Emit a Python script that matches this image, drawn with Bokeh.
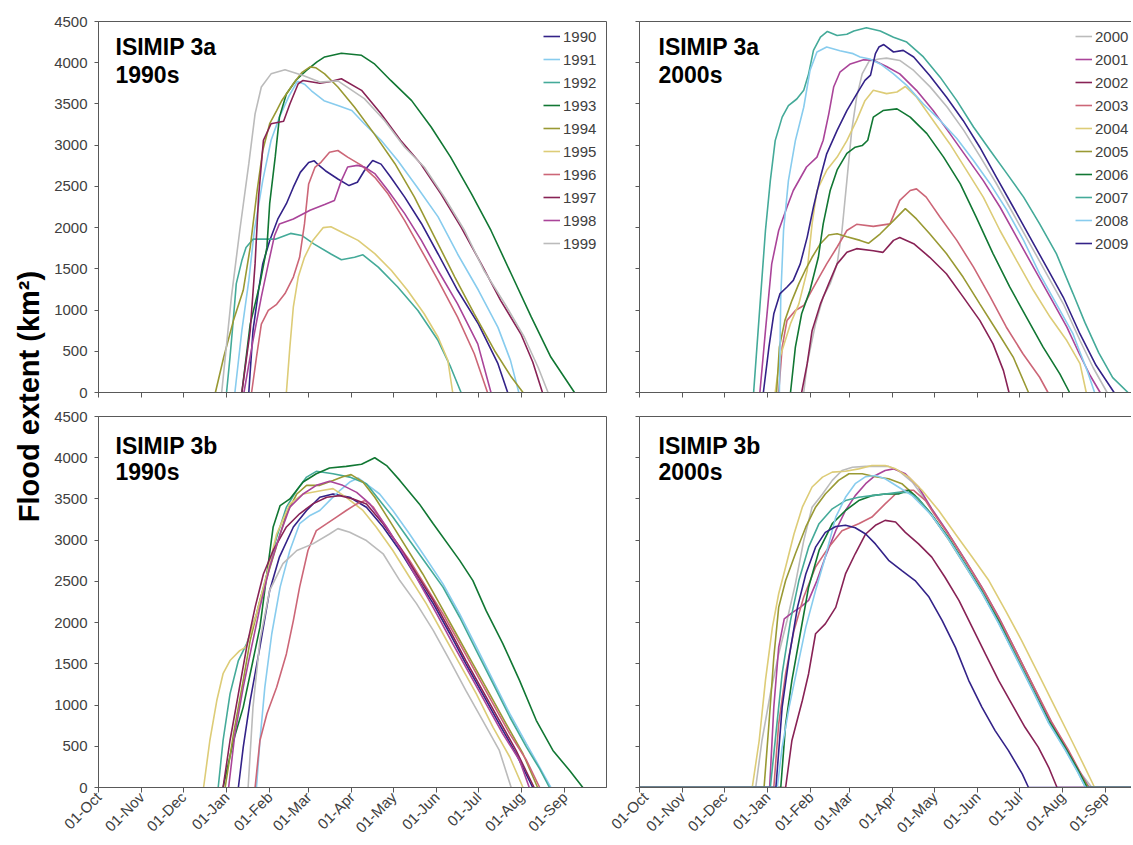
import math
from bokeh.plotting import figure
from bokeh.models import (Range1d, FixedTicker, CustomJSTickFormatter, LinearAxis,
                          Legend, LegendItem, Label)
from bokeh.layouts import row, column
from bokeh.embed import file_html
from bokeh.resources import INLINE
from bokeh.core.properties import value

# ---------------- axes ----------------
# x = days after 01-Oct (water year)
month_ticks = [0, 31, 61, 92, 123, 151, 182, 212, 243, 273, 304, 335]
month_labels = ["01-Oct", "01-Nov", "01-Dec", "01-Jan", "01-Feb", "01-Mar",
                "01-Apr", "01-May", "01-Jun", "01-Jul", "01-Aug", "01-Sep"]
y_ticks = [0, 500, 1000, 1500, 2000, 2500, 3000, 3500, 4000, 4500]

years_1990s = ["1990", "1991", "1992", "1993", "1994", "1995", "1996", "1997", "1998", "1999"]
years_2000s = ["2000", "2001", "2002", "2003", "2004", "2005", "2006", "2007", "2008", "2009"]
colors_1990s = ["#332288", "#88CCEE", "#44AA99", "#117733", "#999933",
                "#DDCC77", "#CC6677", "#882255", "#AA4499", "#BBBBBB"]
colors_2000s = ["#BBBBBB", "#AA4499", "#882255", "#CC6677", "#DDCC77",
                "#999933", "#117733", "#44AA99", "#88CCEE", "#332288"]

# ---------------- ISIMIP 3a, 1990s: (day, km2) ----------------
a3_1990 = [(108,0),(111,750),(115,1240),(118,1560),(123,1840),(129,2110),(135,2290),(140,2490),(145,2670),(151,2790),(155,2810),(158,2760),(163,2690),(172,2590),(180,2510),(186,2550),(191,2690),(197,2815),(203,2770),(210,2610),(220,2370),(232,2050),(244,1680),(258,1240),(273,830),(287,350),(294,0)]
a3_1991 = [(98,0),(103,750),(108,1360),(112,1965),(118,2570),(124,3060),(130,3340),(137,3600),(143,3775),(148,3740),(153,3660),(162,3540),(172,3480),(182,3420),(191,3260),(203,3060),(215,2815),(229,2490),(244,2130),(258,1680),(273,1240),(287,790),(296,390),(302,0)]
a3_1992 = [(92,0),(94.5,430),(97,910),(99,1320),(103,1600),(106,1760),(111,1860),(127,1860),(138,1930),(146,1905),(155,1800),(167,1680),(174.5,1610),(184,1640),(190,1670),(201,1520),(215,1280),(229.5,995),(244,630),(253,310),(260.5,0)]
a3_1993 = [(103,0),(109,830),(116,1320),(121,1760),(123,2290),(127,2860),(130,3340),(135,3620),(142,3790),(149,3900),(157,4010),(162.5,4070),(174.5,4115),(189,4090),(198,3990),(210,3785),(225,3540),(239,3220),(253,2855),(268,2410),(282,1965),(296.5,1440),(311,915),(325,430),(342,0)]
a3_1994 = [(84,0),(90,430),(97,875),(104,1240),(109,1760),(114,2450),(118,2935),(123,3260),(128,3420),(131.5,3535),(140,3745),(146,3880),(152,3950),(156,3940),(162.5,3865),(172,3705),(184,3460),(198,3140),(213,2775),(227,2370),(241.5,1885),(256,1400),(270,955),(284.5,510),(296.5,190),(305,0)]
a3_1995 = [(135,0),(137.5,550),(140,1040),(143.5,1400),(148,1640),(154,1845),(161.5,2000),(167,2010),(177,1925),(186.5,1845),(198.5,1685),(210.5,1480),(222,1240),(234,955),(244,670),(251,390),(254.5,0)]
a3_1996 = [(110,0),(113.5,430),(117,830),(122,995),(128,1070),(134,1200),(140,1400),(144.5,1640),(148,2045),(151,2530),(155.5,2730),(160,2795),(166,2915),(172,2935),(179,2855),(189,2755),(198.5,2610),(208,2410),(220,2085),(232,1725),(244,1360),(258,915),(270,470),(279.5,0)]
a3_1997 = [(103,0),(109,750),(112.5,1560),(115,2370),(118.5,3060),(124,3260),(133,3290),(137.5,3500),(143.5,3745),(147,3785),(159,3750),(166,3770),(174.5,3805),(189,3665),(203,3380),(217,3060),(231.5,2775),(246,2410),(260.5,2005),(275,1560),(289,1115),(303.5,710),(312,370),(319,0)]
a3_1998 = [(104.5,0),(111,630),(117,1160),(122,1560),(126.5,1905),(130,2045),(140,2105),(152,2210),(162.5,2280),(169.5,2330),(174.5,2570),(179,2735),(186,2755),(191,2735),(198.5,2655),(208,2450),(220,2170),(232,1845),(244,1480),(258,1075),(272.5,590),(282,0)]
a3_1999 = [(88.5,0),(95.5,1160),(101.5,1965),(108,2775),(112.5,3380),(117,3705),(124,3865),(134,3915),(147,3845),(159,3765),(172,3780),(191,3565),(205.5,3300),(220,2975),(234,2735),(248.5,2370),(263,1965),(277,1480),(292,1075),(306,670),(316,300),(323,0)]

# ---------------- ISIMIP 3a, 2000s ----------------
a3_2000 = [(118,0),(120.5,350),(126.5,835),(132,1160),(137,1320),(142,1560),(145.5,1965),(149,2570),(152.5,3180),(156,3580),(160,3865),(165,4020),(172,4045),(177.5,4056),(187,4028),(197,3906),(209,3704),(221,3462),(233,3179),(245,2855),(256.5,2532),(268.5,2168),(280.5,1804),(292.5,1440),(304.5,1076),(316.5,631),(326,300),(336,0)]
a3_2001 = [(86.5,0),(90.5,750),(95,1560),(100,1965),(106,2250),(110.5,2450),(120,2735),(127.5,2855),(132,3060),(136,3380),(139.5,3705),(144,3885),(151.5,3985),(161,4035),(168,4030),(177.5,3955),(187,3865),(199,3665),(211,3420),(223,3140),(235,2855),(247,2570),(259,2250),(271,1885),(283,1520),(295,1160),(307,795),(316,470),(324,200),(331,0)]
a3_2002 = [(116.5,0),(120.5,350),(124,750),(130,1075),(136,1320),(142,1560),(149,1700),(156,1745),(168,1720),(175,1700),(182.5,1845),(187,1880),(197,1805),(208.5,1640),(220.5,1440),(232.5,1160),(244.5,875),(254,590),(261.5,265),(265.5,0)]
a3_2003 = [(100,0),(102.5,550),(106,875),(112,995),(118,1055),(122.5,1200),(128.5,1380),(134.5,1560),(142,1765),(149,1965),(156,2040),(168,2015),(180,2045),(187,2330),(194.5,2450),(199,2470),(206,2370),(216,2125),(228,1845),(240,1520),(252,1160),(263.5,795),(275.5,470),(287.5,185),(293.5,0)]
a3_2004 = [(97.5,0),(101,430),(108.5,835),(114.5,1075),(120.5,1480),(124,2045),(127.5,2450),(134.5,2695),(142,2855),(149,3055),(156,3300),(162,3540),(168,3665),(177.5,3625),(185,3645),(191,3712),(199,3585),(211,3300),(223,3015),(235,2695),(247,2370),(259,1965),(271,1600),(283,1240),(295,915),(307,630),(316.5,350),(321,0)]
a3_2005 = [(98.5,0),(100.5,550),(104.5,875),(109.5,1115),(114.5,1320),(119,1480),(124,1640),(130,1805),(136,1910),(142,1925),(149,1890),(158.5,1845),(164.5,1810),(173,1925),(182.5,2085),(191,2230),(199,2105),(208.5,1925),(220.5,1685),(232.5,1400),(244.5,1075),(256.5,755),(268.5,430),(279.5,0)]
a3_2006 = [(108.5,0),(112,550),(116.5,955),(122.5,1240),(128.5,1640),(132,2045),(137,2450),(142,2700),(149,2900),(155,2975),(160,2995),(164,3060),(168,3340),(175,3420),(185,3440),(194.5,3340),(206.5,3140),(218.5,2855),(230.5,2530),(242,2125),(254,1685),(266,1280),(278,915),(290,550),(302,225),(309,0)]
a3_2007 = [(82,0),(87,1160),(90.5,1965),(94,2570),(97.5,3055),(102.5,3340),(107,3480),(113,3560),(118,3665),(121.5,3865),(125,4150),(130,4310),(135,4380),(142,4330),(149,4345),(154,4385),(163,4425),(173,4385),(182.5,4310),(192,4250),(204,4070),(216,3825),(228,3540),(240,3220),(252,2935),(264,2655),(276,2370),(287.5,2045),(299.5,1685),(311.5,1200),(320,850),(330,480),(340,180),(351,0)]
a3_2008 = [(100.5,0),(101.5,1160),(103.5,1965),(107,2570),(112,3055),(118,3460),(122.5,3905),(127.5,4130),(134.5,4190),(144,4145),(153.5,4110),(158.5,4070),(165.5,4045),(173,3985),(182.5,3865),(192,3725),(204,3500),(216,3300),(228,3080),(240,2815),(252,2530),(264,2210),(276,1845),(287.5,1440),(299.5,1075),(311.5,710),(316,510),(322,250),(327,0)]
a3_2009 = [(89,0),(93,550),(96.5,955),(101,1200),(106,1280),(110.5,1360),(115.5,1560),(120.5,1885),(125,2250),(130,2610),(134.5,2895),(142,3180),(149,3420),(156,3620),(162,3785),(166,3850),(169.5,4110),(172,4190),(175.5,4220),(182.5,4130),(189.5,4150),(197,4070),(208.5,3845),(220.5,3585),(232.5,3300),(244.5,2975),(256.5,2610),(268.5,2250),(280.5,1885),(292.5,1520),(304.5,1155),(316.5,710),(328,330),(341,0)]

# ---------------- ISIMIP 3b, 1990s ----------------
b3_1990 = [(100.5,0),(104,490),(109,1055),(116,1705),(123,2390),(130,2795),(140,3160),(149.5,3360),(159,3520),(168.5,3560),(180.5,3520),(192.5,3400),(204.5,3160),(216.5,2875),(228.5,2550),(240.5,2230),(252.5,1865),(264,1500),(276,1135),(288,770),(300,410),(312,0)]
b3_1991 = [(113.5,0),(116,570),(119.5,1215),(124.5,1865),(130.5,2430),(137.5,2875),(144.5,3200),(152,3300),(159,3360),(166,3480),(173.5,3605),(180.5,3705),(186.5,3755),(189,3725),(202,3560),(211.5,3360),(223.5,3075),(235.5,2775),(247.5,2470),(259.5,2105),(271.5,1705),(283.5,1300),(295.5,895),(307.5,530),(317,245),(325,0)]
b3_1992 = [(86,0),(89.5,570),(94.5,1135),(100.5,1540),(106.5,1745),(113.5,2105),(121,2590),(128,3035),(135,3400),(142.5,3605),(149.5,3765),(156.5,3835),(168.5,3805),(180.5,3765),(192.5,3685),(211.5,3280),(223.5,2995),(235.5,2715),(247.5,2430),(259.5,2065),(271.5,1660),(283.5,1260),(295.5,855),(307.5,490),(317,225),(324,0)]
b3_1993 = [(89.5,0),(97,570),(104,975),(111,1540),(116,1945),(121,2590),(125.5,3160),(130.5,3420),(137.5,3500),(147,3705),(156.5,3805),(166,3875),(178,3895),(189,3920),(198.5,4000),(207,3905),(216.5,3725),(230.5,3440),(240.5,3200),(259.5,2755),(269,2510),(278.5,2145),(290.5,1745),(302.5,1300),(314.5,815),(326.5,450),(338.5,205),(348,0)]
b3_1994 = [(91,0),(97,650),(104,1300),(109,1785),(116,2270),(125.5,2795),(135,3320),(142.5,3560),(149.5,3665),(159,3665),(168.5,3725),(175.5,3770),(181.5,3795),(190,3705),(198.5,3520),(209,3240),(221,2915),(233,2590),(245,2230),(257,1865),(269,1500),(281,1135),(293,770),(305,410),(315.5,0)]
b3_1995 = [(75.5,0),(80,570),(85,1055),(89.5,1380),(94.5,1540),(101.5,1660),(106,1705),(113.5,2105),(121,2590),(128,3075),(137.5,3440),(147,3560),(161.5,3605),(168.5,3625),(178,3520),(190,3360),(199.5,3160),(211.5,2875),(223.5,2550),(235.5,2230),(247.5,1865),(259.5,1500),(271.5,1135),(283.5,730),(295.5,370),(305,0)]
b3_1996 = [(112.5,0),(116,570),(121,895),(128,1215),(135,1620),(140,2025),(144.5,2430),(150.5,2875),(156.5,3115),(164,3200),(171,3280),(178,3360),(185.5,3440),(191.5,3480),(197.5,3400),(211.5,3035),(223.5,2755),(235.5,2430),(247.5,2105),(259.5,1745),(271.5,1380),(283.5,1015),(295.5,650),(307.5,330),(317,0)]
b3_1997 = [(89.5,0),(94.5,570),(100.5,1135),(106.5,1705),(112.5,2185),(118.5,2590),(125.5,2875),(135,3160),(144.5,3320),(154,3440),(164,3520),(173.5,3540),(183,3500),(192.5,3440),(204.5,3200),(216.5,2915),(228.5,2590),(240.5,2270),(252.5,1905),(264,1540),(276,1175),(288,815),(300,450),(313,0)]
b3_1998 = [(93.5,0),(98,650),(104,1215),(110,1705),(116,2185),(123,2675),(130.5,3075),(137.5,3400),(147,3560),(156.5,3665),(166,3715),(175.5,3665),(185.5,3580),(195,3440),(207,3160),(219,2835),(231,2470),(243,2105),(254.5,1745),(266.5,1380),(278.5,1015),(290.5,650),(302.5,330),(309.5,0)]
b3_1999 = [(107.5,0),(111,975),(116,1785),(123,2390),(132.5,2715),(142.5,2875),(154,2955),(166,3075),(172,3140),(180.5,3095),(192.5,2995),(204.5,2835),(216.5,2510),(228.5,2230),(240.5,1905),(252.5,1540),(264,1175),(276,815),(288,450),(296.5,0)]

# ---------------- ISIMIP 3b, 2000s ----------------
b3_2000 = [(0,0),(83.5,0),(88,570),(94,1135),(100,1620),(106,2025),(112,2470),(118,2995),(124,3400),(131.5,3560),(138.5,3725),(145.5,3845),(153,3885),(162.5,3895),(172,3895),(179,3895),(186,3845),(196,3705),(208,3430),(220,3130),(232,2810),(244,2470),(256,2110),(268,1720),(280,1320),(292,910),(304,520),(315,220),(325,0),(365,0)]
b3_2001 = [(0,0),(93.5,0),(96.5,975),(100,1700),(104,2045),(110,2125),(115.5,2185),(121.5,2270),(127.5,2510),(133.5,2795),(141,3115),(148,3360),(155,3540),(162.5,3685),(169.5,3785),(176.5,3845),(182.5,3865),(191,3805),(200.5,3645),(210,3380),(222,3080),(234,2760),(246,2430),(258,2070),(270,1670),(282,1260),(294,850),(306,500),(315.5,210),(323,0),(365,0)]
b3_2002 = [(0,0),(105,0),(109.5,570),(117,1055),(121.5,1380),(126.5,1865),(133.5,1985),(141,2185),(148,2590),(155,2835),(162.5,3075),(169.5,3180),(176.5,3240),(184,3220),(191,3095),(200.5,2955),(210,2795),(219.5,2550),(229.5,2270),(239,1945),(248.5,1620),(258,1300),(267.5,1015),(277,730),(286.5,490),(294,245),(300,0),(365,0)]
b3_2003 = [(0,0),(96.5,0),(100,770),(105,1380),(111,1905),(118,2310),(126.5,2675),(136,2915),(145.5,3115),(157.5,3200),(167,3280),(176.5,3440),(184,3560),(191,3605),(197,3605),(205.5,3480),(212,3310),(224,3020),(236,2700),(248,2370),(260,2000),(272,1600),(284,1200),(296,800),(308,460),(316.5,190),(322,0),(365,0)]
b3_2004 = [(0,0),(81,0),(86,570),(90.5,1300),(95.5,1945),(100,2350),(105,2675),(111,3075),(117,3400),(124,3645),(131.5,3765),(138.5,3825),(148,3835),(157.5,3865),(167,3905),(176.5,3905),(184,3865),(193.5,3765),(203,3605),(215,3360),(227,3075),(239,2795),(251,2510),(263,2145),(274.5,1785),(286.5,1380),(298.5,975),(310.5,570),(320,245),(327,0),(365,0)]
b3_2005 = [(0,0),(89.5,0),(93,770),(96.5,1580),(100,2185),(105,2510),(112,2835),(119.5,3160),(126.5,3400),(133.5,3560),(143,3725),(150.5,3805),(160,3805),(169.5,3770),(179,3745),(188.5,3685),(198,3540),(210,3300),(222,3010),(234,2690),(246,2370),(258,2010),(270,1610),(282,1210),(294,800),(306,470),(315.5,190),(322.5,0),(365,0)]
b3_2006 = [(0,0),(101.5,0),(105,770),(109.5,1300),(115.5,1865),(121.5,2430),(129,2875),(138.5,3200),(148,3360),(157.5,3480),(167,3540),(176.5,3560),(186,3560),(193.5,3605),(200.5,3500),(210,3310),(222,3030),(234,2710),(246,2380),(258,2020),(270,1610),(282,1210),(294,810),(306,480),(315.5,200),(321.5,0),(365,0)]
b3_2007 = [(0,0),(94,0),(98,650),(102.5,1380),(108.5,2025),(114.5,2510),(121.5,2915),(129,3200),(138.5,3380),(148,3480),(157.5,3520),(167,3540),(176.5,3560),(186,3580),(193.5,3580),(200.5,3500),(210,3300),(222,3020),(234,2700),(246,2370),(258,2000),(270,1600),(282,1200),(294,790),(306,460),(315,190),(320.5,0),(365,0)]
b3_2008 = [(0,0),(99,0),(102.5,490),(107.5,975),(113.5,1460),(119.5,1945),(126.5,2390),(133.5,2795),(141,3280),(148,3520),(155,3685),(162.5,3770),(169.5,3785),(176.5,3745),(186,3645),(196,3540),(210,3300),(222,3010),(234,2690),(246,2360),(258,1990),(270,1590),(282,1190),(294,780),(306,450),(315,180),(320.5,0),(365,0)]
b3_2009 = [(0,0),(98,0),(102.5,975),(107.5,1580),(113.5,2185),(119.5,2590),(126.5,2915),(133.5,3095),(141,3165),(148,3180),(155,3150),(162.5,3075),(169.5,2955),(179,2755),(188.5,2630),(198,2510),(208,2310),(217.5,2025),(227,1700),(236.5,1300),(246,975),(255.5,690),(265,450),(275,165),(279.5,0),(365,0)]

series_a3_1990s = [a3_1990, a3_1991, a3_1992, a3_1993, a3_1994, a3_1995, a3_1996, a3_1997, a3_1998, a3_1999]
series_a3_2000s = [a3_2000, a3_2001, a3_2002, a3_2003, a3_2004, a3_2005, a3_2006, a3_2007, a3_2008, a3_2009]
series_b3_1990s = [b3_1990, b3_1991, b3_1992, b3_1993, b3_1994, b3_1995, b3_1996, b3_1997, b3_1998, b3_1999]
series_b3_2000s = [b3_2000, b3_2001, b3_2002, b3_2003, b3_2004, b3_2005, b3_2006, b3_2007, b3_2008, b3_2009]

# ---------------- styling / layout ----------------
AX = "#595959"
TXT = "#404040"
FONT = "Liberation Sans"
DAYS = 365
LEFT_FRAME_W = 508
RIGHT_FRAME_W = 492
FRAME_H = 371
right_x_end = DAYS * RIGHT_FRAME_W / LEFT_FRAME_W
px_per_day = LEFT_FRAME_W / DAYS
km2_per_px = 4500 / FRAME_H


def make_panel(series, years, colors, title1, title2, is_left, is_top, show_legend):
    width = 557 if is_left else 524
    height = 404 if is_top else 440
    p = figure(width=width, height=height,
               x_range=Range1d(0, DAYS if is_left else right_x_end),
               y_range=Range1d(0, 4500),
               output_backend="svg", toolbar_location=None,
               min_border_left=48 if is_left else 32,
               min_border_right=1 if is_left else 0,
               min_border_top=21 if is_top else 12,
               min_border_bottom=12 if is_top else 57,
               background_fill_color="white", border_fill_color="white")
    p.xgrid.grid_line_color = None
    p.ygrid.grid_line_color = None
    p.outline_line_color = AX if is_left else None

    renderers = []
    for pts, c in zip(series, colors):
        xs = [d for d, v in pts]
        ys = [v for d, v in pts]
        renderers.append(p.line(xs, ys, line_color=c, line_width=1.6))

    xa = p.xaxis[0]
    xa.ticker = FixedTicker(ticks=month_ticks)
    xa.axis_line_color = AX
    xa.major_tick_line_color = AX
    xa.minor_tick_line_color = None
    xa.major_tick_in = 0
    xa.major_tick_out = 5
    if is_top:
        xa.formatter = CustomJSTickFormatter(code="return ''")
        xa.major_label_text_font_size = "0px"
        xa.major_label_standoff = 0
    else:
        xa.major_label_overrides = dict(zip(month_ticks, month_labels))
        xa.major_label_orientation = math.pi / 4
        xa.major_label_text_font = FONT
        xa.major_label_text_font_size = "15px"
        xa.major_label_text_color = TXT
        xa.major_label_standoff = 2

    ya = p.yaxis[0]
    ya.ticker = FixedTicker(ticks=y_ticks)
    ya.axis_line_color = AX
    ya.major_tick_line_color = AX
    ya.minor_tick_line_color = None
    ya.major_tick_in = 0
    ya.major_tick_out = 4
    if is_left:
        ya.major_label_text_font = FONT
        ya.major_label_text_font_size = "15px"
        ya.major_label_text_color = TXT
        ya.major_label_standoff = 7
    else:
        ya.formatter = CustomJSTickFormatter(code="return ''")
        ya.major_label_text_font_size = "0px"
        ya.major_label_standoff = 0
        top = LinearAxis(ticker=FixedTicker(ticks=[]), axis_line_color=AX,
                         major_tick_line_color=None, minor_tick_line_color=None,
                         major_label_text_font_size="0px")
        p.add_layout(top, "above")

    # panel titles (two lines, bold)
    tx = (17 if is_left else 19) / px_per_day
    off1, off2 = (25, 53) if is_top else (29, 55)
    for txt, off in ((title1, off1), (title2, off2)):
        p.add_layout(Label(x=tx, y=4500 - off * km2_per_px, text=txt,
                           text_font=FONT, text_font_style="bold",
                           text_font_size="23px", text_color="black",
                           text_baseline="middle", text_align="left"))

    if show_legend:
        lg = Legend(items=[LegendItem(label=y, renderers=[r]) for y, r in zip(years, renderers)],
                    location=(445 if is_left else 436, 139),
                    orientation="vertical", padding=0, margin=0, spacing=3,
                    glyph_width=17, glyph_height=20, label_height=20, label_standoff=3,
                    label_text_font=FONT, label_text_font_size="15px",
                    label_text_color=TXT, border_line_color=None,
                    background_fill_alpha=0)
        p.add_layout(lg)
    return p


tl = make_panel(series_a3_1990s, years_1990s, colors_1990s, "ISIMIP 3a", "1990s", True, True, True)
tr = make_panel(series_a3_2000s, years_2000s, colors_2000s, "ISIMIP 3a", "2000s", False, True, True)
bl = make_panel(series_b3_1990s, years_1990s, colors_1990s, "ISIMIP 3b", "1990s", True, False, False)
br = make_panel(series_b3_2000s, years_2000s, colors_2000s, "ISIMIP 3b", "2000s", False, False, False)

lab = figure(width=50, height=844, x_range=Range1d(0, 50), y_range=Range1d(0, 844),
             output_backend="svg", toolbar_location=None, min_border=0,
             x_axis_type=None, y_axis_type=None)
lab.outline_line_color = None
lab.text(x=[28], y=[448], text=["Flood extent (km²)"], angle=math.pi / 2,
         text_align="center", text_baseline="middle",
         text_font=value(FONT), text_font_style="bold",
         text_font_size=value("29px"), text_color="black")

layout = row(lab, column(row(tl, tr), row(bl, br)))
open("out.html", "w").write(file_html(layout, INLINE, title="Flood extent"))
